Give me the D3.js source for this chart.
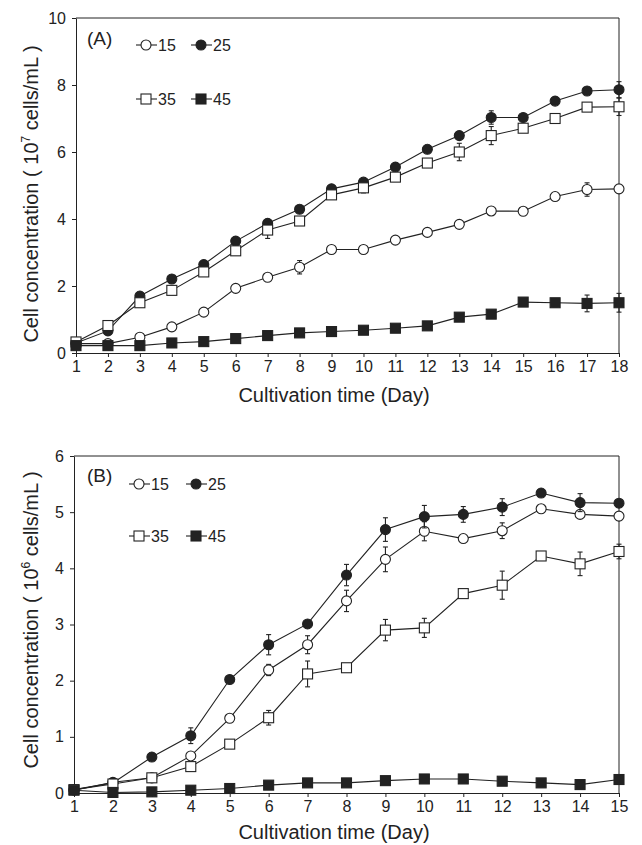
<!DOCTYPE html>
<html>
<head>
<meta charset="utf-8">
<script src="https://cdnjs.cloudflare.com/ajax/libs/d3/7.8.5/d3.min.js"></script>
<style>
body { margin: 0; background: #fff; }
svg text { font-family: "Liberation Sans", Arial, sans-serif; fill: #222; }
.axis path, .axis line { stroke: #222; stroke-width: 1; }
.axis text { font-size: 16px; }
</style>
</head>
<body>
<div id="vis"></div>
<script>
// Growth curves at four temperatures, panels (A) and (B)

/* *************************** Data ***************************** */

var temps = ['15', '25', '35', '45'];

// Panel A: days 1-18, 10^7 cells/mL
var daysA = [1, 2, 3, 4, 5, 6, 7, 8, 9, 10, 11, 12, 13, 14, 15, 16, 17, 18];
var a15 = [0.28, 0.28, 0.47, 0.78, 1.22, 1.93, 2.26, 2.56, 3.09, 3.09, 3.37, 3.6, 3.84, 4.24, 4.23, 4.67, 4.88, 4.9];
var a25 = [0.3, 0.66, 1.7, 2.21, 2.64, 3.34, 3.87, 4.29, 4.9, 5.1, 5.55, 6.08, 6.49, 7.03, 7.03, 7.52, 7.82, 7.86];
var a35 = [0.33, 0.82, 1.5, 1.87, 2.42, 3.05, 3.67, 3.94, 4.72, 4.93, 5.25, 5.67, 6.0, 6.49, 6.71, 7.0, 7.34, 7.35];
var a45 = [0.22, 0.22, 0.22, 0.3, 0.34, 0.43, 0.52, 0.6, 0.64, 0.68, 0.74, 0.81, 1.07, 1.16, 1.52, 1.5, 1.48, 1.5];
var a15err = [0.02, 0.03, 0.05, 0.05, 0.05, 0.07, 0.08, 0.2, 0.05, 0.05, 0.05, 0.05, 0.05, 0.12, 0.05, 0.05, 0.2, 0.05];
var a25err = [0.02, 0.05, 0.08, 0.08, 0.08, 0.08, 0.08, 0.1, 0.08, 0.08, 0.1, 0.08, 0.1, 0.2, 0.1, 0.08, 0.08, 0.24];
var a35err = [0.02, 0.06, 0.08, 0.08, 0.1, 0.08, 0.25, 0.1, 0.08, 0.15, 0.08, 0.08, 0.26, 0.27, 0.08, 0.08, 0.1, 0.26];
var a45err = [0.02, 0.02, 0.02, 0.03, 0.03, 0.03, 0.03, 0.04, 0.04, 0.04, 0.04, 0.04, 0.05, 0.05, 0.1, 0.12, 0.25, 0.28];
var yTicksA = [0, 2, 4, 6, 8, 10];

// Panel B: days 1-15, 10^6 cells/mL
var daysB = [1, 2, 3, 4, 5, 6, 7, 8, 9, 10, 11, 12, 13, 14, 15];
var b15 = [0.05, 0.19, 0.27, 0.66, 1.33, 2.19, 2.64, 3.42, 4.16, 4.66, 4.53, 4.67, 5.06, 4.96, 4.93];
var b25 = [0.06, 0.18, 0.64, 1.02, 2.02, 2.64, 3.01, 3.88, 4.69, 4.92, 4.96, 5.09, 5.34, 5.17, 5.16];
var b35 = [0.06, 0.16, 0.27, 0.47, 0.87, 1.34, 2.12, 2.23, 2.9, 2.94, 3.55, 3.7, 4.22, 4.08, 4.3];
var b45 = [0.05, 0.01, 0.02, 0.05, 0.08, 0.14, 0.18, 0.18, 0.22, 0.25, 0.25, 0.21, 0.18, 0.15, 0.24];
var b15err = [0.01, 0.03, 0.03, 0.05, 0.05, 0.1, 0.16, 0.19, 0.22, 0.17, 0.04, 0.14, 0.05, 0.05, 0.05];
var b25err = [0.01, 0.03, 0.04, 0.14, 0.05, 0.18, 0.05, 0.19, 0.21, 0.2, 0.14, 0.15, 0.05, 0.16, 0.06];
var b35err = [0.01, 0.03, 0.03, 0.05, 0.05, 0.13, 0.23, 0.05, 0.19, 0.17, 0.04, 0.25, 0.05, 0.21, 0.13];
var b45err = [0.01, 0.01, 0.01, 0.01, 0.02, 0.02, 0.02, 0.02, 0.02, 0.02, 0.02, 0.02, 0.02, 0.02, 0.02];
var yTicksB = [0, 1, 2, 3, 4, 5, 6];

/* *************************** Settings ***************************** */

var width = 642;
var height = 845;
var ink = '#222';

// marker style for each temperature
var markers = {
    '15': { shape: 'circle', fill: '#fff' },
    '25': { shape: 'circle', fill: ink },
    '35': { shape: 'square', fill: '#fff' },
    '45': { shape: 'square', fill: ink }
};

var svg = d3.select('#vis')
    .append('svg')
    .attr('width', width)
    .attr('height', height);

// build the series list for one panel
var makeSeries = function(days, vals, errs) {
    return temps.map(function(t, i) {
        return {
            temp: t,
            points: days.map(function(d, j) {
                return { day: d, value: vals[i][j], err: errs[i][j] };
            })
        };
    });
};

// draw a marker of the given temperature into selection sel
var drawMarker = function(sel, temp, cx, cy) {
    var m = markers[temp];
    if (m.shape === 'circle') {
        sel.append('circle')
            .attr('cx', cx).attr('cy', cy).attr('r', 5)
            .attr('fill', m.fill).attr('stroke', ink).attr('stroke-width', 1.1);
    } else {
        sel.append('rect')
            .attr('x', cx - 5).attr('y', cy - 5)
            .attr('width', 10).attr('height', 10)
            .attr('fill', m.fill).attr('stroke', ink).attr('stroke-width', 1.1);
    }
};

/* *************************** Draw one panel ***************************** */

var drawPanel = function(p) {
    var xScale = d3.scaleLinear()
        .domain([p.days[0], p.days[p.days.length - 1]])
        .range([p.left, p.right]);

    var yScale = d3.scaleLinear()
        .domain([0, p.yTicks[p.yTicks.length - 1]])
        .range([p.bottom, p.top]);

    // frame: top and right lines
    svg.append('path')
        .attr('d', 'M' + p.left + ',' + p.top + 'H' + p.right + 'V' + p.bottom)
        .attr('fill', 'none')
        .attr('stroke', ink);

    var xAxis = d3.axisBottom(xScale)
        .tickValues(p.days)
        .tickFormat(d3.format('d'))
        .tickSizeInner(4)
        .tickSizeOuter(0)
        .tickPadding(4);

    var yAxis = d3.axisLeft(yScale)
        .tickValues(p.yTicks)
        .tickFormat(d3.format('d'))
        .tickSizeInner(4)
        .tickSizeOuter(0)
        .tickPadding(6);

    svg.append('g')
        .attr('class', 'axis')
        .attr('transform', 'translate(0,' + p.bottom + ')')
        .call(xAxis);

    svg.append('g')
        .attr('class', 'axis')
        .attr('transform', 'translate(' + p.left + ',0)')
        .call(yAxis);

    svg.selectAll('.axis text').attr('fill', ink);

    // axis titles
    svg.append('text')
        .attr('x', 334)
        .attr('y', p.xTitleY)
        .attr('text-anchor', 'middle')
        .style('font-size', '20px')
        .text('Cultivation time (Day)');

    var yt = svg.append('text')
        .attr('transform', 'translate(38,' + p.yTitleCy + ') rotate(-90)')
        .attr('text-anchor', 'middle')
        .style('font-size', '20px');
    yt.append('tspan').text('Cell concentration ( 10');
    yt.append('tspan').attr('dy', -8).style('font-size', '12px').text(p.power);
    yt.append('tspan').attr('dy', 8).text(' cells/mL )');

    // panel label
    svg.append('text')
        .attr('x', 87)
        .attr('y', p.labelY)
        .attr('dy', '0.35em')
        .style('font-size', '19px')
        .text(p.label);

    var line = d3.line()
        .x(function(d) { return xScale(d.day); })
        .y(function(d) { return yScale(d.value); });

    p.series.forEach(function(s) {
        var g = svg.append('g');

        g.append('path')
            .datum(s.points)
            .attr('d', line)
            .attr('fill', 'none')
            .attr('stroke', ink)
            .attr('stroke-width', 1.1);

        // error bars
        var eb = g.selectAll('.err')
            .data(s.points)
            .enter().append('g')
            .attr('stroke', ink)
            .attr('stroke-width', 1.1);
        eb.append('line')
            .attr('x1', function(d) { return xScale(d.day); })
            .attr('x2', function(d) { return xScale(d.day); })
            .attr('y1', function(d) { return yScale(d.value - d.err); })
            .attr('y2', function(d) { return yScale(d.value + d.err); });
        [-1, 1].forEach(function(sign) {
            eb.append('line')
                .attr('x1', function(d) { return xScale(d.day) - 2.5; })
                .attr('x2', function(d) { return xScale(d.day) + 2.5; })
                .attr('y1', function(d) { return yScale(d.value + sign * d.err); })
                .attr('y2', function(d) { return yScale(d.value + sign * d.err); });
        });

        s.points.forEach(function(d) {
            drawMarker(g, s.temp, xScale(d.day), yScale(d.value));
        });
    });

    // legend, two rows of two entries
    temps.forEach(function(t, i) {
        var lx = p.legendX[i % 2];
        var ly = p.legendY[Math.floor(i / 2)];
        var lg = svg.append('g');
        lg.append('line')
            .attr('x1', lx).attr('x2', lx + 21)
            .attr('y1', ly).attr('y2', ly)
            .attr('stroke', ink).attr('stroke-width', 1.1);
        drawMarker(lg, t, lx + 10, ly);
        lg.append('text')
            .attr('x', lx + 22)
            .attr('y', ly)
            .attr('dy', '0.35em')
            .style('font-size', '16px')
            .text(t);
    });
};

drawPanel({
    days: daysA, yTicks: yTicksA,
    series: makeSeries(daysA, [a15, a25, a35, a45], [a15err, a25err, a35err, a45err]),
    left: 76, right: 619, top: 18, bottom: 353,
    xTitleY: 402, yTitleCy: 194, power: '7',
    label: '(A)', labelY: 38,
    legendX: [136, 191], legendY: [45, 99]
});

drawPanel({
    days: daysB, yTicks: yTicksB,
    series: makeSeries(daysB, [b15, b25, b35, b45], [b15err, b25err, b35err, b45err]),
    left: 74, right: 619, top: 456, bottom: 793,
    xTitleY: 839, yTitleCy: 620, power: '6',
    label: '(B)', labelY: 475,
    legendX: [129, 186], legendY: [484, 536]
});
</script>
</body>
</html>
